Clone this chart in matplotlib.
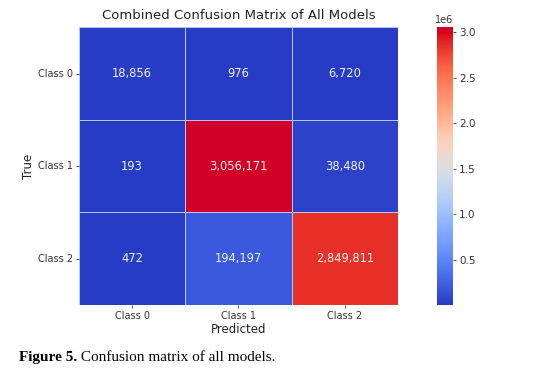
import matplotlib
matplotlib.use("Agg")
import matplotlib.pyplot as plt
import matplotlib.colors as mcolors
import seaborn as sns
import numpy as np

# etiquetas y valores de la matriz de confusion
clases = ["Class 0", "Class 1", "Class 2"]
fila_0 = [18856, 976, 6720]
fila_1 = [193, 3056171, 38480]
fila_2 = [472, 194197, 2849811]

matriz = np.array([fila_0, fila_1, fila_2])
anotaciones = [[f"{v:,}" for v in fila] for fila in matriz]

# coolwarm un poco mas saturado, como se ve en la imagen original
base = plt.get_cmap("coolwarm")(np.linspace(0, 1, 256))[:, :3]
rojo = base[:, 0] > base[:, 2]
hsv = mcolors.rgb_to_hsv(base)
hsv[:, 1] = np.clip(hsv[:, 1] * 1.15, 0, 1)
hsv[:, 2] = np.clip(hsv[:, 2] * (1 + np.where(rojo, 0.16, 0.03) * hsv[:, 1]), 0, 1)
cmap = mcolors.ListedColormap(mcolors.hsv_to_rgb(hsv))

fig = plt.figure(figsize=(5.45, 3.68), dpi=100)
ax = fig.add_axes([0.145, 0.171, 0.585, 0.755])
cax = fig.add_axes([0.802, 0.171, 0.029, 0.755])

sns.heatmap(matriz, annot=anotaciones, fmt="", cmap=cmap, ax=ax, cbar_ax=cax,
            linewidths=0.5, linecolor="#b8c4f0", annot_kws={"size": 8.3, "color": "#f2f2f2"},
            xticklabels=clases, yticklabels=clases)

ax.set_title("Combined Confusion Matrix of All Models", fontsize=9.5, color="#222222", pad=6)
ax.set_xlabel("Predicted", fontsize=8.5, color="#222222", labelpad=1)
ax.set_ylabel("True", fontsize=8.5, color="#222222", labelpad=2)
ax.tick_params(labelsize=7, colors="#333333", length=2.5, width=0.6, pad=2)
plt.setp(ax.get_yticklabels(), rotation=0)
cax.tick_params(labelsize=7.5, colors="#333333", length=2.5, width=0.6, pad=2)
cax.yaxis.get_offset_text().set_fontsize(7)

# pie de figura
t = fig.text(0.035, 0.02, "Figure 5.", fontsize=11, fontweight="bold", family="Liberation Serif")
t2 = fig.text(0, 0.02, " Confusion matrix of all models.", fontsize=11, family="Liberation Serif")
fig.canvas.draw()
bb = t.get_window_extent().transformed(fig.transFigure.inverted())
t2.set_position((bb.x1, 0.02))

plt.savefig("out.png", dpi=100)
